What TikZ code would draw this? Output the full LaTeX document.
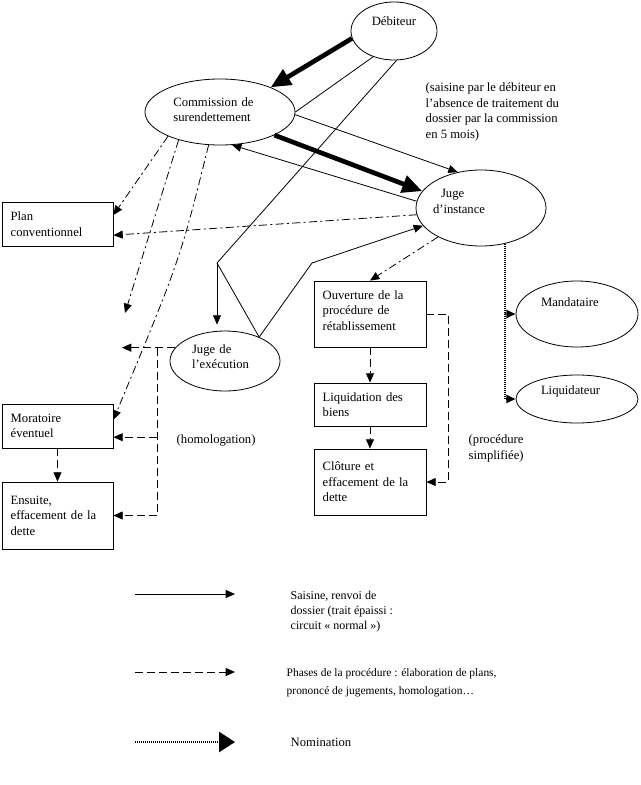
\documentclass[tikz,border=0pt]{standalone}
\usepackage{fontspec}
\setmainfont{Liberation Serif}
\usetikzlibrary{arrows.meta}
\usetikzlibrary{shapes.geometric}
\usetikzlibrary{calc}

\begin{document}
\begin{tikzpicture}[x=0.75pt,y=-0.75pt,font=\fontsize{9.5}{11.7}\selectfont,
  ovale/.style={ellipse,draw,line width=0.6pt,inner sep=0pt},
  boite/.style={rectangle,draw,line width=0.6pt,inner xsep=6.5pt,inner ysep=0pt,text width=70.25pt,align=left},
  trait/.style={line width=0.6pt},
  fleche/.style={trait,-{Triangle[length=7pt,width=6pt]}},
  grosse/.style={line width=3.5pt,-{Triangle[length=15pt,width=13pt]}},
  phase/.style={fleche,dash pattern=on 6pt off 3pt},
  phasemix/.style={fleche,dash pattern=on 6pt off 2.5pt on 1.5pt off 2.5pt},
  nomin/.style={fleche,line width=2pt,dash pattern=on 0.75pt off 0.75pt}]
\useasboundingbox (0,0) rectangle (641,785);

\node[ovale,minimum width=64.5pt,minimum height=43.5pt,text depth=15pt] (deb) at (394,31) {Débiteur};
\node[ovale,minimum width=112.5pt,minimum height=49.5pt,text width=70pt,align=left,text depth=15pt] (com) at (220,112) {Commission de\\surendettement};
\node[ovale,minimum width=97.5pt,minimum height=57pt,inner xsep=-3pt,inner ysep=-3pt,text width=72pt,align=left,text depth=22pt] (ji) at (481,208) {\hspace*{6pt}Juge\\d’instance};
\node[ovale,minimum width=82.5pt,minimum height=45pt,inner ysep=-4pt,text width=49.5pt,align=left,text depth=18pt] (je) at (225,361) {Juge de\\l’exécution};
\node[ovale,minimum width=91.5pt,minimum height=49.5pt,text width=54pt,align=left,text depth=18pt] (man) at (577,314) {Mandataire};
\node[ovale,minimum width=91.5pt,minimum height=36pt,text width=54pt,align=left,text depth=13.5pt] (liq) at (577,399) {Liquidateur};

\node[boite,minimum height=33pt] (plan) at (57.5,224) {Plan\\conventionnel};
\node[boite,minimum height=33pt] (mor) at (57.5,426) {Moratoire\\éventuel};
\node[boite,minimum height=50.25pt] (ens) at (57.5,515.5) {Ensuite,\\effacement de la\\dette};
\node[boite,minimum height=49.5pt,text width=71pt,text depth=29pt] (ouv) at (370,314) {Ouverture de la\\procédure de\\rétablissement};
\node[boite,minimum height=32.25pt,text width=71pt] (liqb) at (370,404.5) {Liquidation des\\biens};
\node[boite,minimum height=49.5pt,text width=71pt] (clo) at (370,482) {Clôture et\\effacement de la\\dette};

\coordinate (j1) at (217,263);
\coordinate (j2) at (312,263);
\coordinate (bout1) at (125,313);
\coordinate (bout2) at (122,348);
\coordinate (hom) at (157,348);
\coordinate (plan30) at ($(plan.north east)!0.3!(plan.south east)$);
\coordinate (plan75) at ($(plan.north east)!0.75!(plan.south east)$);
\coordinate (mor36) at ($(mor.north east)!0.36!(mor.south east)$);
\coordinate (mor75) at ($(mor.north east)!0.75!(mor.south east)$);

% saisine, renvoi
\draw[grosse] (deb.190) -- (com.26);
\draw[grosse] (com.-23) -- (ji.164);
\draw[trait] (deb.231) -- (com.east);
\draw[fleche] (com.-2) -- (ji.123);
\draw[fleche] (ji.174) -- (com.-70);
\draw[trait] (deb.275) -- (j1);
\draw[fleche,shorten >=4.5pt] (j1) -- (je.north -| j1);
\draw[trait] (j1) -- (je.35);
\draw[fleche] (je.35) -- (j2) -- (ji.197);

% phases
\draw[phasemix] (com.205) -- (plan30);
\draw[phasemix] (com.214) -- (bout1);
\draw[phasemix] (com.251) .. controls (180,260) .. (mor36);
\draw[phasemix] (ji.186) -- (plan75);
\draw[phasemix] (ji.214) -- (ouv.north);
\draw[phase] (je.165) -- (je.165 -| bout2);
\draw[phase] (je.165 -| hom) |- (ens.east);
\draw[phase] (mor75 -| hom) -- (mor75);
\draw[phase] (mor.south) -- (ens.north);
\draw[phase] (ouv.south) -- (liqb.north);
\draw[phase] (liqb.south) -- (clo.north);
\draw[phase] (ouv.east) -- ++(22,0) |- (clo.east);

% nomination
\draw[nomin] (ji.-56) |- (man.west);
\draw[nomin] (ji.-56) |- (liq.west);

\node[anchor=north west,align=left] (note) at (421,78) {(saisine par le débiteur en\\l’absence de traitement du\\dossier par la commission\\en 5 mois)};
\node[anchor=west] (homo) at (172,440) {(homologation)};
\node[anchor=north west,align=left] (simpl) at (464,430) {(procédure\\simplifiée)};

% legende
\coordinate (l1a) at (135,594);
\coordinate (l1b) at (235,594);
\coordinate (l2a) at (135,672);
\coordinate (l2b) at (235,672);
\coordinate (l3a) at (135,742);
\coordinate (l3b) at (235,742);
\draw[fleche] (l1a) -- (l1b);
\draw[phase] (l2a) -- (l2b);
\draw[nomin,-{Triangle[length=12pt,width=15pt]}] (l3a) -- (l3b);
\node[anchor=north west,align=left,font=\fontsize{9}{11.3}\selectfont] (leg1) at (286,586) {Saisine, renvoi de\\dossier (trait épaissi :\\circuit « normal »)};
\node[anchor=north west,align=left,font=\fontsize{8.6}{13.5}\selectfont] (leg2) at (282,664) {Phases de la procédure : élaboration de plans,\\prononcé de jugements, homologation…};
\node[anchor=west] (leg3) at (286,742) {Nomination};

\end{tikzpicture}
\end{document}
